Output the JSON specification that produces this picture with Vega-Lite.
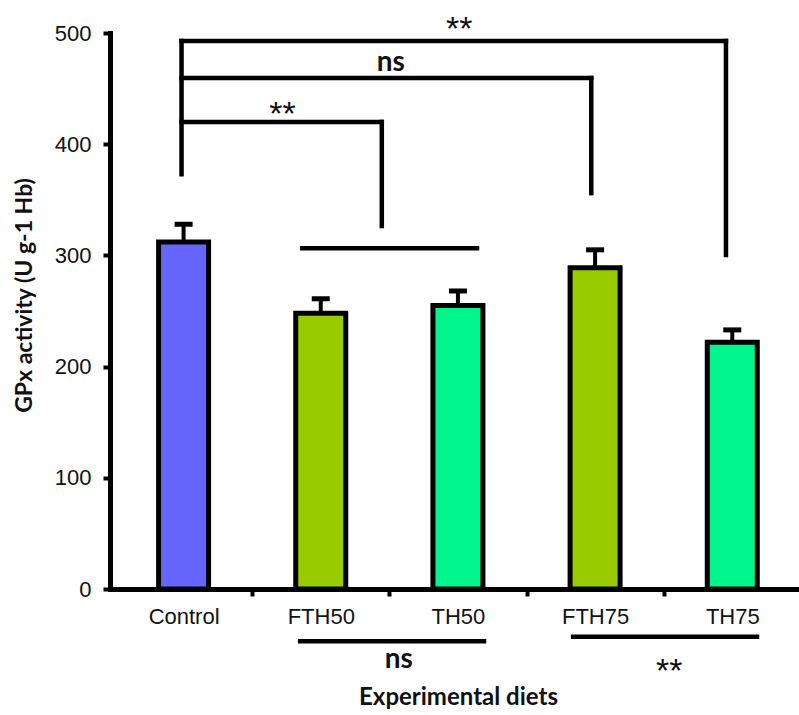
{
  "$schema": "https://vega.github.io/schema/vega-lite/v6.json",
  "width": 689,
  "height": 556,
  "autosize": {"type": "none"},
  "padding": {"left": 110, "top": 33, "right": 0, "bottom": 126},
  "background": "white",
  "config": {"view": {"stroke": null}},
  "datasets": {
    "bars": [
      {"diet": "Control", "idx": 0, "feed": "Control", "gpx": 312, "upper": 328},
      {"diet": "FTH50", "idx": 1, "feed": "FTH", "gpx": 248, "upper": 261},
      {"diet": "TH50", "idx": 2, "feed": "TH", "gpx": 255, "upper": 268},
      {"diet": "FTH75", "idx": 3, "feed": "FTH", "gpx": 289, "upper": 305},
      {"diet": "TH75", "idx": 4, "feed": "TH", "gpx": 222, "upper": 233}
    ],
    "lines": [
      {"x1": -0.015, "x2": -0.015, "y1": 373, "y2": 492.8},
      {"x1": -0.015, "x2": 3.954, "y1": 492.8, "y2": 492.8},
      {"x1": 3.954, "x2": 3.954, "y1": 300.4, "y2": 492.8},
      {"x1": -0.015, "x2": 2.972, "y1": 459.5, "y2": 459.5},
      {"x1": 2.972, "x2": 2.972, "y1": 356, "y2": 459.5},
      {"x1": -0.015, "x2": 1.445, "y1": 420, "y2": 420},
      {"x1": 1.445, "x2": 1.445, "y1": 326.4, "y2": 420},
      {"x1": 0.865, "x2": 2.139, "y1": 306.4, "y2": 306.4},
      {"x1": 0.85, "x2": 2.19, "y1": -47, "y2": -47},
      {"x1": 2.84, "x2": 4.18, "y1": -43, "y2": -43}
    ],
    "stars": [
      {"x": 2.01, "y": 493.7, "t": "**"},
      {"x": 0.721, "y": 417.3, "t": "**"},
      {"x": 3.54, "y": -83.2, "t": "**"}
    ],
    "ns": [
      {"x": 1.511, "y": 465.8, "t": "ns"},
      {"x": 1.569, "y": -71, "t": "ns"}
    ]
  },
  "layer": [
    {
      "data": {"name": "bars"},
      "mark": {"type": "bar", "width": 50, "stroke": "black", "strokeWidth": 5},
      "encoding": {
        "x": {
          "field": "idx", "type": "quantitative", "title": "Experimental diets",
          "scale": {"domain": [-0.5, 4.45], "nice": false, "zero": false},
          "axis": {
            "values": [0, 0.5, 1, 1.5, 2, 2.5, 3, 3.5, 4],
            "labelExpr": "datum.value==0?'Control':datum.value==1?'FTH50':datum.value==2?'TH50':datum.value==3?'FTH75':datum.value==4?'TH75':''",
            "tickOpacity": {"condition": {"test": "datum.value % 1 == 0", "value": 0}, "value": 1},
            "grid": false, "domainColor": "black", "domainWidth": 5, "domainCap": "square",
            "tickColor": "black", "tickWidth": 4, "tickSize": 7,
            "labelFont": "Liberation Sans", "labelFontSize": 22, "labelColor": "#111",
            "labelPadding": 10, "labelOverlap": false, "labelFlush": false,
            "title": "Experimental diets", "titleFont": "Lato", "titleFontWeight": "bold",
            "titleFontSize": 24, "titleColor": "#111", "titleX": 348, "titleY": 108,
            "titleBaseline": "middle", "titleAlign": "center"
          }
        },
        "y": {
          "field": "gpx", "type": "quantitative", "title": "GPx activity (U g-1 Hb)",
          "scale": {"domain": [0, 500], "nice": false},
          "axis": {
            "values": [0, 100, 200, 300, 400, 500],
            "grid": false, "domainColor": "black", "domainWidth": 5, "domainCap": "square",
            "tickColor": "black", "tickWidth": 4, "tickSize": 7,
            "labelFont": "Liberation Sans", "labelFontSize": 22, "labelColor": "#111",
            "labelPadding": 12,
            "title": "GPx activity (U g-1 Hb)", "titleFont": "Lato", "titleFontWeight": "bold",
            "titleFontSize": 23, "titleColor": "#111", "titleX": -86, "titleY": 262,
            "titleAngle": -90, "titleAlign": "center", "titleBaseline": "middle"
          }
        },
        "color": {
          "field": "feed", "type": "nominal",
          "scale": {"domain": ["Control", "FTH", "TH"], "range": ["#6666FF", "#99CC00", "#00F58C"]},
          "legend": null
        }
      }
    },
    {
      "data": {"name": "bars"},
      "mark": {"type": "rule", "strokeWidth": 4, "color": "black"},
      "encoding": {
        "x": {"field": "idx", "type": "quantitative", "title": "Experimental diets"},
        "y": {"field": "gpx", "type": "quantitative", "title": "GPx activity (U g-1 Hb)"},
        "y2": {"field": "upper"}
      }
    },
    {
      "data": {"name": "bars"},
      "mark": {"type": "tick", "orient": "horizontal", "size": 18, "thickness": 5, "color": "black", "opacity": 1},
      "encoding": {
        "x": {"field": "idx", "type": "quantitative", "title": "Experimental diets"},
        "y": {"field": "upper", "type": "quantitative", "title": "GPx activity (U g-1 Hb)"}
      }
    },
    {
      "data": {"name": "lines"},
      "mark": {"type": "rule", "strokeWidth": 4.5, "color": "black", "strokeCap": "square"},
      "encoding": {
        "x": {"field": "x1", "type": "quantitative", "title": "Experimental diets"},
        "x2": {"field": "x2"},
        "y": {"field": "y1", "type": "quantitative", "title": "GPx activity (U g-1 Hb)"},
        "y2": {"field": "y2"}
      }
    },
    {
      "data": {"name": "stars"},
      "mark": {"type": "text", "font": "Liberation Sans", "fontSize": 34, "align": "center", "baseline": "alphabetic", "color": "#111"},
      "encoding": {
        "x": {"field": "x", "type": "quantitative", "title": "Experimental diets"},
        "y": {"field": "y", "type": "quantitative", "title": "GPx activity (U g-1 Hb)"},
        "text": {"field": "t"}
      }
    },
    {
      "data": {"name": "ns"},
      "mark": {"type": "text", "font": "Lato", "fontWeight": "bold", "fontSize": 28, "align": "center", "baseline": "alphabetic", "color": "#111"},
      "encoding": {
        "x": {"field": "x", "type": "quantitative", "title": "Experimental diets"},
        "y": {"field": "y", "type": "quantitative", "title": "GPx activity (U g-1 Hb)"},
        "text": {"field": "t"}
      }
    }
  ]
}
